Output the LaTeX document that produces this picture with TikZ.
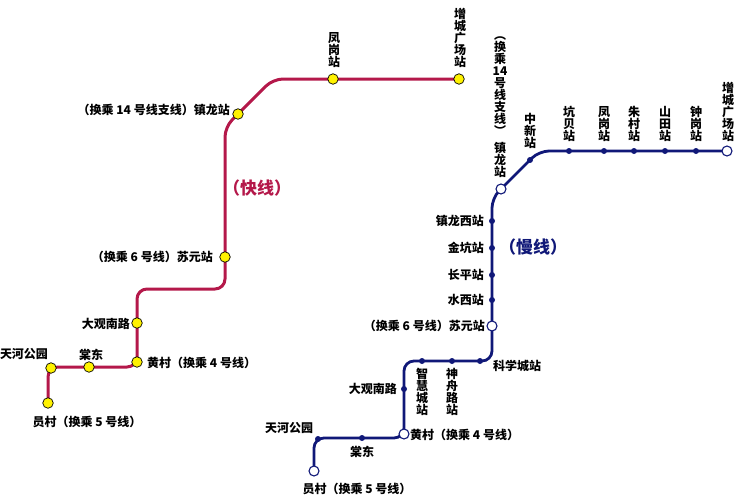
\documentclass[tikz,border=0pt]{standalone}
\usepackage{fontspec}
\setmainfont{Noto Sans CJK SC}
\usepackage{tikz}

\definecolor{rosso}{RGB}{180,24,74}
\definecolor{blu}{RGB}{16,24,120}

\tikzset{
  fermataR/.style={circle, draw=black, fill=yellow, line width=0.7pt, minimum size=10.5pt, inner sep=0pt},
  fermataB/.style={circle, fill=blu, minimum size=6pt, inner sep=0pt},
  scambioB/.style={circle, draw=blu, fill=white, line width=1.1pt, minimum size=10pt, inner sep=0pt},
  nome/.style={font=\fontsize{12}{12}\selectfont\bfseries, inner sep=1pt},
  verticale/.style={nome, align=center},
  lineaR/.style={draw=rosso, line width=3pt, rounded corners=10pt},
  lineaB/.style={draw=blu, line width=2.8pt, rounded corners=10pt},
}

\begin{document}
\begin{tikzpicture}[x=1pt, y=-1pt]
\useasboundingbox (0,0) rectangle (740,496);
%快线 - percorso
\coordinate (rA) at (459,79);
\coordinate (rk1) at (273,79);
\coordinate (rk2) at (225,127);
\coordinate (rk3) at (225,289);
\coordinate (rk4) at (137,289);
\coordinate (rk5) at (137,367);
\coordinate (rk6) at (48,367);
\coordinate (rB) at (48,403);
\draw[lineaR] (rA) -- (rk1) -- (rk2) -- (rk3) -- (rk4) -- (rk5) -- (rk6) -- (rB);
% 慢线 - percorso
\coordinate (bA) at (727,151);
\coordinate (bk1) at (539,151);
\coordinate (bk2) at (492,198);
\coordinate (bk3) at (492,361);
\coordinate (bk4) at (404,361);
\coordinate (bk5) at (404,438);
\coordinate (bk6) at (314,438);
\coordinate (bB) at (314,471);
\draw[lineaB] (bA) -- (bk1) -- (bk2) -- (bk3) -- (bk4) -- (bk5) -- (bk6) -- (bB);

% 快线 - fermate
\node[fermataR] (rZc) at (rA) {};
\node[verticale, anchor=south] (tRZc) at (460,69) {增\\城\\广\\场\\站};
\node[fermataR] (rFg) at (333,79) {};
\node[verticale, anchor=south] (tRFg) at (334,69) {凤\\岗\\站};
\node[fermataR] (rZl) at (238,114) {};
\node[nome, anchor=east] (tRZl) at (231,110) {（换乘 14 号线支线）镇龙站};
\node[fermataR] (rSy) at (225,257) {};
\node[nome, anchor=east] (tRSy) at (214,257) {（换乘 6 号线）苏元站};
\node[fermataR] (rDg) at (137,323) {};
\node[nome, anchor=east] (tRDg) at (131,324) {大观南路};
\node[fermataR] (rHc) at (137,362) {};
\node[nome, anchor=west] (tRHc) at (146,363) {黄村（换乘 4 号线）};
\node[fermataR] (rTd) at (89,367) {};
\node[nome] (tRTd) at (91,355) {棠东};
\node[fermataR] (rTh) at (51,368) {};
\node[nome] (tRTh) at (24,354) {天河公园};
\node[fermataR] (rYc) at (rB) {};
\node[nome] (tRYc) at (87,422) {员村（换乘 5 号线）};
% 快线 - titolo
\node[font=\fontsize{17}{17}\selectfont\bfseries, text=rosso] (tRapido) at (257,188) {（快线）};

% 慢线 - fermate orizzontali
\node[scambioB] (bZc) at (bA) {};
\node[verticale, anchor=south] (tBZc) at (728,143) {增\\城\\广\\场\\站};
\node[fermataB] (bZg) at (696,151) {};
\node[verticale, anchor=south] (tBZg) at (696,143) {钟\\岗\\站};
\node[fermataB] (bSt) at (665,151) {};
\node[verticale, anchor=south] (tBSt) at (665,143) {山\\田\\站};
\node[fermataB] (bZcun) at (634,151) {};
\node[verticale, anchor=south] (tBZcun) at (634,143) {朱\\村\\站};
\node[fermataB] (bFg) at (604,151) {};
\node[verticale, anchor=south] (tBFg) at (604,143) {凤\\岗\\站};
\node[fermataB] (bKb) at (569,151) {};
\node[verticale, anchor=south] (tBKb) at (569,143) {坑\\贝\\站};
\node[fermataB] (bZx) at (530,160) {};
\node[verticale, anchor=south] (tBZx) at (530,150) {中\\新\\站};
\node[scambioB] (bZl) at (501,189) {};
\node[verticale, anchor=south] (tBZl) at (500,179) {︵\\换\\乘\\14\\号\\线\\支\\线\\︶\\[5pt]镇\\龙\\站};
% 慢线 - ramo verticale
\node[fermataB] (bZlx) at (492,221) {};
\node[nome, anchor=east] (tBZlx) at (485,221) {镇龙西站};
\node[fermataB] (bJk) at (492,248) {};
\node[nome, anchor=east] (tBJk) at (485,248) {金坑站};
\node[fermataB] (bCp) at (492,275) {};
\node[nome, anchor=east] (tBCp) at (485,275) {长平站};
\node[fermataB] (bSx) at (492,300) {};
\node[nome, anchor=east] (tBSx) at (485,300) {水西站};
\node[scambioB] (bSy) at (492,326) {};
\node[nome, anchor=east] (tBSy) at (486,326) {（换乘 6 号线）苏元站};
\node[font=\fontsize{17}{17}\selectfont\bfseries, text=blu] (tLento) at (533,247) {（慢线）};
% 慢线 - tratto basso
\node[fermataB] (bKxc) at (480,361) {};
\node[nome] (tBKxc) at (517,366) {科学城站};
\node[fermataB] (bSzl) at (452,361) {};
\node[verticale, anchor=north] (tBSzl) at (452,367) {神\\舟\\路\\站};
\node[fermataB] (bZhc) at (422,361) {};
\node[verticale, anchor=north] (tBZhc) at (422,367) {智\\慧\\城\\站};
\node[fermataB] (bDg) at (404,389) {};
\node[nome, anchor=east] (tBDg) at (398,389) {大观南路};
\node[scambioB] (bHc) at (404,434) {};
\node[nome, anchor=west] (tBHc) at (409,435) {黄村（换乘 4 号线）};
\node[fermataB] (bTd) at (362,438) {};
\node[nome] (tBTd) at (362,452) {棠东};
\node[fermataB] (bTh) at (318,439) {};
\node[nome] (tBTh) at (289,428) {天河公园};
\node[scambioB] (bYc) at (bB) {};
\node[nome] (tBYc) at (357,489) {员村（换乘 5 号线）};
\end{tikzpicture}
\end{document}
